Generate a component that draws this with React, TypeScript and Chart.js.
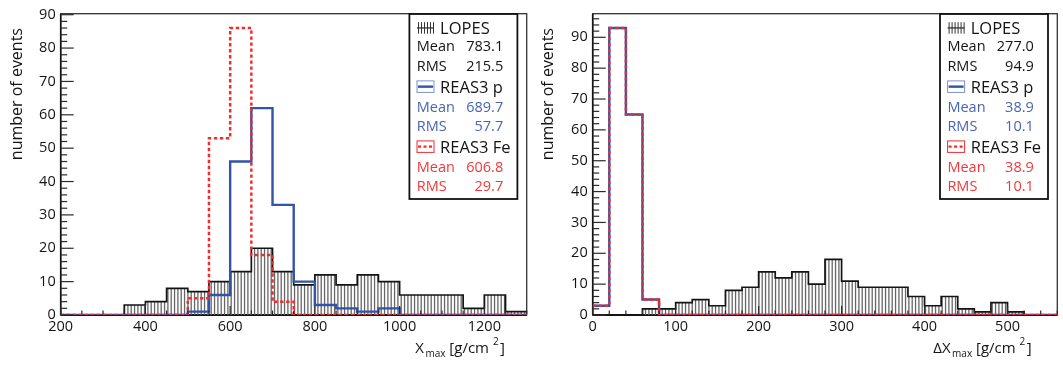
import React, { useEffect, useRef } from "react";
import { Chart, registerables } from "chart.js";

Chart.register(...registerables);

// ---------------- Data: left panel (Xmax) ----------------
const xmaxBinStart = 200;
const xmaxBinWidth = 50;
const xmaxLopes = [0, 0, 0, 3, 4, 8, 7, 10, 13, 20, 13, 9, 12, 9, 12, 10, 6, 6, 6, 2, 6, 1];
const xmaxReasP = [0, 0, 0, 0, 0, 0, 1, 6, 46, 62, 33, 10, 3, 2, 1, 2, 0, 0, 0, 0, 0, 0];
const xmaxReasFe = [0, 0, 0, 0, 0, 0, 5, 53, 86, 18, 4, 0, 0, 0, 0, 0, 0, 0, 0, 0, 0, 0];
const xmaxXTicks = [200, 400, 600, 800, 1000, 1200];
const xmaxYTicks = [0, 10, 20, 30, 40, 50, 60, 70, 80, 90];
const xmaxLopesStats = ["783.1", "215.5"];
const xmaxReasPStats = ["689.7", "57.7"];
const xmaxReasFeStats = ["606.8", "29.7"];

// ---------------- Data: right panel (Delta Xmax) ----------------
const dxBinStart = 0;
const dxBinWidth = 20;
const dxLopes = [0, 0, 0, 2, 2, 4, 5, 3, 8, 9, 14, 12, 14, 10, 18, 11, 9, 9, 9, 6, 3, 6, 2, 1, 4, 1, 0, 0];
const dxReasP = [3, 93, 65, 5, 0, 0, 0, 0, 0, 0, 0, 0, 0, 0, 0, 0, 0, 0, 0, 0, 0, 0, 0, 0, 0, 0, 0, 0];
const dxReasFe = [3, 93, 65, 5, 0, 0, 0, 0, 0, 0, 0, 0, 0, 0, 0, 0, 0, 0, 0, 0, 0, 0, 0, 0, 0, 0, 0, 0];
const dxXTicks = [0, 100, 200, 300, 400, 500];
const dxYTicks = [0, 10, 20, 30, 40, 50, 60, 70, 80, 90];
const dxLopesStats = ["277.0", "94.9"];
const dxReasPStats = ["38.9", "10.1"];
const dxReasFeStats = ["38.9", "10.1"];

const seriesNames = ["LOPES", "REAS3 p", "REAS3 Fe"];
const statNames = ["Mean", "RMS"];

// ---------------- Styles ----------------
const FONT = '"Open Sans", sans-serif';
const BLACK = "#141414";
const BLUE_LINE = "#3353a6";
const BLUE_TEXT = "#4864b4";
const RED_LINE = "#f02c2c";
const RED_TEXT = "#f23838";
const H = 365;

type PanelCfg = {
  canvasLeft: number;
  canvasWidth: number;
  yAxisWidth: number;
  padRight: number;
  binStart: number;
  binWidth: number;
  lopes: number[];
  reasP: number[];
  reasFe: number[];
  xMin: number;
  xMax: number;
  yMax: number;
  xTicks: number[];
  yTicks: number[];
  xMinor: number;
  yMinor: number;
  xTitlePrefix: string;
  xTitleGap: number;
  lopesStats: string[];
  pStats: string[];
  feStats: string[];
};

const panels: PanelCfg[] = [
  {
    canvasLeft: 0, canvasWidth: 531, yAxisWidth: 60.7, padRight: 4.3,
    binStart: xmaxBinStart, binWidth: xmaxBinWidth,
    lopes: xmaxLopes, reasP: xmaxReasP, reasFe: xmaxReasFe,
    xMin: 200, xMax: 1300, yMax: 90.3,
    xTicks: xmaxXTicks, yTicks: xmaxYTicks, xMinor: 50, yMinor: 2,
    xTitlePrefix: "X", xTitleGap: 21.7,
    lopesStats: xmaxLopesStats, pStats: xmaxReasPStats, feStats: xmaxReasFeStats,
  },
  {
    canvasLeft: 531, canvasWidth: 532, yAxisWidth: 61.7, padRight: 5.7,
    binStart: dxBinStart, binWidth: dxBinWidth,
    lopes: dxLopes, reasP: dxReasP, reasFe: dxReasFe,
    xMin: 0, xMax: 560, yMax: 97.65,
    xTicks: dxXTicks, yTicks: dxYTicks, xMinor: 20, yMinor: 2,
    xTitlePrefix: "\u0394X", xTitleGap: 25.6,
    lopesStats: dxLopesStats, pStats: dxReasPStats, feStats: dxReasFeStats,
  },
];

function histPoints(start: number, width: number, values: number[]) {
  const pts = values.map((v, i) => ({ x: start + i * width, y: v }));
  pts.push({ x: start + values.length * width, y: values[values.length - 1] });
  return pts;
}

function makeHatch(): CanvasPattern | string {
  const c = document.createElement("canvas");
  c.width = 10;
  c.height = 10;
  const g = c.getContext("2d");
  if (!g) return "#bbb";
  g.strokeStyle = "#666";
  g.lineWidth = 1.3;
  [1.2, 4.55, 7.9].forEach((x) => {
    g.beginPath();
    g.moveTo(x, 0);
    g.lineTo(x, 10);
    g.stroke();
  });
  return g.createPattern(c, "repeat") || "#bbb";
}

function makePlugin(cfg: PanelCfg) {
  return {
    id: "rootStyle",
    beforeDatasetsDraw(chart: any) {
      const ctx: CanvasRenderingContext2D = chart.ctx;
      const a = chart.chartArea;
      ctx.save();
      ctx.strokeStyle = "#333";
      ctx.lineWidth = 1.3;
      ctx.strokeRect(a.left, a.top, a.right - a.left, a.bottom - a.top);
      ctx.strokeStyle = BLACK;
      ctx.lineWidth = 2;
      ctx.beginPath();
      ctx.moveTo(a.left, a.bottom);
      ctx.lineTo(a.right, a.bottom);
      ctx.stroke();
      ctx.lineWidth = 1.6;
      ctx.beginPath();
      ctx.moveTo(a.left, a.top);
      ctx.lineTo(a.left, a.bottom);
      ctx.stroke();
      ctx.restore();
    },
    afterDatasetsDraw(chart: any) {
      const ctx: CanvasRenderingContext2D = chart.ctx;
      const a = chart.chartArea;
      const xs = chart.scales.x;
      const ys = chart.scales.y;
      ctx.save();

      // ticks (ROOT style, inside)
      ctx.strokeStyle = "#2a2a2a";
      ctx.lineWidth = 1.2;
      const yMajor = cfg.yTicks[1] - cfg.yTicks[0];
      for (let v = 0; v <= cfg.yMax + 1e-9; v += cfg.yMinor) {
        const y = ys.getPixelForValue(v);
        const isMajor = Math.abs(v / yMajor - Math.round(v / yMajor)) < 1e-6;
        const len = isMajor ? 13 : 6.5;
        ctx.beginPath();
        ctx.moveTo(a.left, y);
        ctx.lineTo(a.left + len, y);
        ctx.stroke();
      }
      const xMajor = cfg.xTicks[1] - cfg.xTicks[0];
      for (let v = cfg.xMin; v <= cfg.xMax + 1e-9; v += cfg.xMinor) {
        const x = xs.getPixelForValue(v);
        const r = (v - cfg.xTicks[0]) / xMajor;
        const isMajor = Math.abs(r - Math.round(r)) < 1e-6;
        const len = isMajor ? 9 : 4.5;
        ctx.beginPath();
        ctx.moveTo(x, a.bottom - 1);
        ctx.lineTo(x, a.bottom - len);
        ctx.stroke();
      }

      // y title
      ctx.fillStyle = BLACK;
      ctx.font = `16px ${FONT}`;
      ctx.save();
      ctx.translate(21.5, 28);
      ctx.rotate(-Math.PI / 2);
      ctx.textAlign = "right";
      ctx.textBaseline = "alphabetic";
      ctx.fillText("number of events", 0, 0);
      ctx.restore();

      // x title with sub/superscript
      const parts = [
        { t: cfg.xTitlePrefix, size: 15, dy: 0, gap: 1.5 },
        { t: "max", size: 10, dy: 3.5, gap: 0 },
        { t: " [g/cm ", size: 15, dy: 0, gap: 0 },
        { t: "2", size: 10, dy: -8, gap: 1.5 },
        { t: "]", size: 15, dy: 0, gap: 0 },
      ];
      let total = 0;
      parts.forEach((p) => {
        ctx.font = `${p.size}px ${FONT}`;
        total += ctx.measureText(p.t).width + p.gap;
      });
      let cx = a.right - cfg.xTitleGap - total;
      const base = 353;
      ctx.textAlign = "left";
      parts.forEach((p) => {
        ctx.font = `${p.size}px ${FONT}`;
        ctx.fillText(p.t, cx, base + p.dy);
        cx += ctx.measureText(p.t).width + p.gap;
      });

      // stats / legend box
      const bw = 108;
      const bx = a.right - 9.3 - bw;
      const by = 14;
      const bh = 185;
      ctx.fillStyle = "#fff";
      ctx.fillRect(bx, by, bw, bh);
      ctx.strokeStyle = "#111";
      ctx.lineWidth = 1.8;
      ctx.strokeRect(bx, by, bw, bh);

      const rowBase = [20, 36.7, 56.7, 78.7, 97.7, 116.7, 138.7, 157.7, 176.7];
      const groups = [
        { name: seriesNames[0], stats: cfg.lopesStats, color: BLACK, sym: "hatch" },
        { name: seriesNames[1], stats: cfg.pStats, color: BLUE_TEXT, sym: "blue" },
        { name: seriesNames[2], stats: cfg.feStats, color: RED_TEXT, sym: "red" },
      ];
      groups.forEach((g, gi) => {
        const tb = by + rowBase[gi * 3];
        const sx = bx + 7.6;
        const sw = 17;
        const sh = 11.5;
        const sy = tb - 11.8;
        if (g.sym === "hatch") {
          ctx.strokeStyle = "#333";
          ctx.lineWidth = 1;
          for (let i = 0; i < 6; i++) {
            const x = sx + 1.5 + i * 3;
            ctx.beginPath();
            ctx.moveTo(x, sy);
            ctx.lineTo(x, sy + sh);
            ctx.stroke();
          }
          ctx.lineWidth = 1.3;
          ctx.beginPath();
          ctx.moveTo(sx, sy + sh / 2);
          ctx.lineTo(sx + sw, sy + sh / 2);
          ctx.stroke();
        } else {
          const col = g.sym === "blue" ? BLUE_LINE : RED_LINE;
          ctx.strokeStyle = g.sym === "blue" ? "#7d91c8" : RED_LINE;
          ctx.lineWidth = 1;
          ctx.strokeRect(sx, sy, sw, sh);
          ctx.strokeStyle = col;
          ctx.lineWidth = 2.4;
          if (g.sym === "red") ctx.setLineDash([3, 2.5]);
          ctx.beginPath();
          ctx.moveTo(sx + 1, sy + sh / 2);
          ctx.lineTo(sx + sw - 1, sy + sh / 2);
          ctx.stroke();
          ctx.setLineDash([]);
        }
        ctx.fillStyle = BLACK;
        ctx.font = `16.5px ${FONT}`;
        ctx.textAlign = "left";
        ctx.fillText(g.name, bx + 30.7, tb);
        ctx.font = `14.5px ${FONT}`;
        ctx.fillStyle = g.color;
        g.stats.forEach((val, si) => {
          const yb = by + rowBase[gi * 3 + 1 + si];
          ctx.textAlign = "left";
          ctx.fillText(statNames[si], bx + 7.4, yb);
          ctx.textAlign = "right";
          ctx.fillText(val, bx + 93.8, yb);
        });
      });

      ctx.restore();
    },
  };
}

function buildConfig(cfg: PanelCfg): any {
  const hatch = makeHatch();
  return {
    type: "line",
    data: {
      datasets: [
        {
          label: seriesNames[2],
          data: histPoints(cfg.binStart, cfg.binWidth, cfg.reasFe),
          stepped: "before",
          borderColor: RED_LINE,
          borderWidth: 2.5,
          borderDash: [3.4, 2.6],
          pointRadius: 0,
          fill: false,
          order: 1,
        },
        {
          label: seriesNames[1],
          data: histPoints(cfg.binStart, cfg.binWidth, cfg.reasP),
          stepped: "before",
          borderColor: BLUE_LINE,
          borderWidth: 2.4,
          pointRadius: 0,
          fill: false,
          order: 2,
        },
        {
          label: seriesNames[0],
          data: histPoints(cfg.binStart, cfg.binWidth, cfg.lopes),
          stepped: "before",
          borderColor: BLACK,
          borderWidth: 1.7,
          pointRadius: 0,
          fill: "origin",
          backgroundColor: hatch,
          order: 3,
        },
      ],
    },
    options: {
      animation: false,
      responsive: false,
      maintainAspectRatio: false,
      events: [],
      layout: { padding: { left: 0, right: cfg.padRight, top: 10, bottom: 0 } },
      plugins: { legend: { display: false }, tooltip: { enabled: false }, title: { display: false } },
      scales: {
        x: {
          type: "linear",
          min: cfg.xMin,
          max: cfg.xMax,
          afterBuildTicks: (s: any) => {
            s.ticks = cfg.xTicks.map((v) => ({ value: v }));
          },
          afterFit: (s: any) => {
            s.height = 50;
          },
          ticks: {
            font: { family: FONT, size: 14.5 },
            color: BLACK,
            padding: 3,
            autoSkip: false,
            maxRotation: 0,
            callback: (v: any) => String(v),
          },
          grid: { display: false, drawTicks: false },
          border: { display: false },
        },
        y: {
          type: "linear",
          min: 0,
          max: cfg.yMax,
          afterBuildTicks: (s: any) => {
            s.ticks = cfg.yTicks.map((v) => ({ value: v }));
          },
          afterFit: (s: any) => {
            s.width = cfg.yAxisWidth;
          },
          ticks: {
            font: { family: FONT, size: 14.5 },
            color: BLACK,
            padding: 5,
            autoSkip: false,
            callback: (v: any) => String(v),
          },
          grid: { display: false, drawTicks: false },
          border: { display: false },
        },
      },
    },
    plugins: [makePlugin(cfg)],
  };
}

function HistPanel({ cfg }: { cfg: PanelCfg }) {
  const ref = useRef<HTMLCanvasElement>(null);
  useEffect(() => {
    if (!ref.current) return;
    const chart = new Chart(ref.current, buildConfig(cfg));
    return () => chart.destroy();
  }, [cfg]);
  return (
    <canvas
      ref={ref}
      width={cfg.canvasWidth}
      height={H}
      style={{ position: "absolute", left: cfg.canvasLeft, top: 0, width: cfg.canvasWidth, height: H }}
    />
  );
}

export default function App() {
  return (
    <div style={{ position: "absolute", left: 0, top: 0, width: 1063, height: H, background: "#fff" }}>
      {panels.map((p, i) => (
        <HistPanel key={i} cfg={p} />
      ))}
    </div>
  );
}
